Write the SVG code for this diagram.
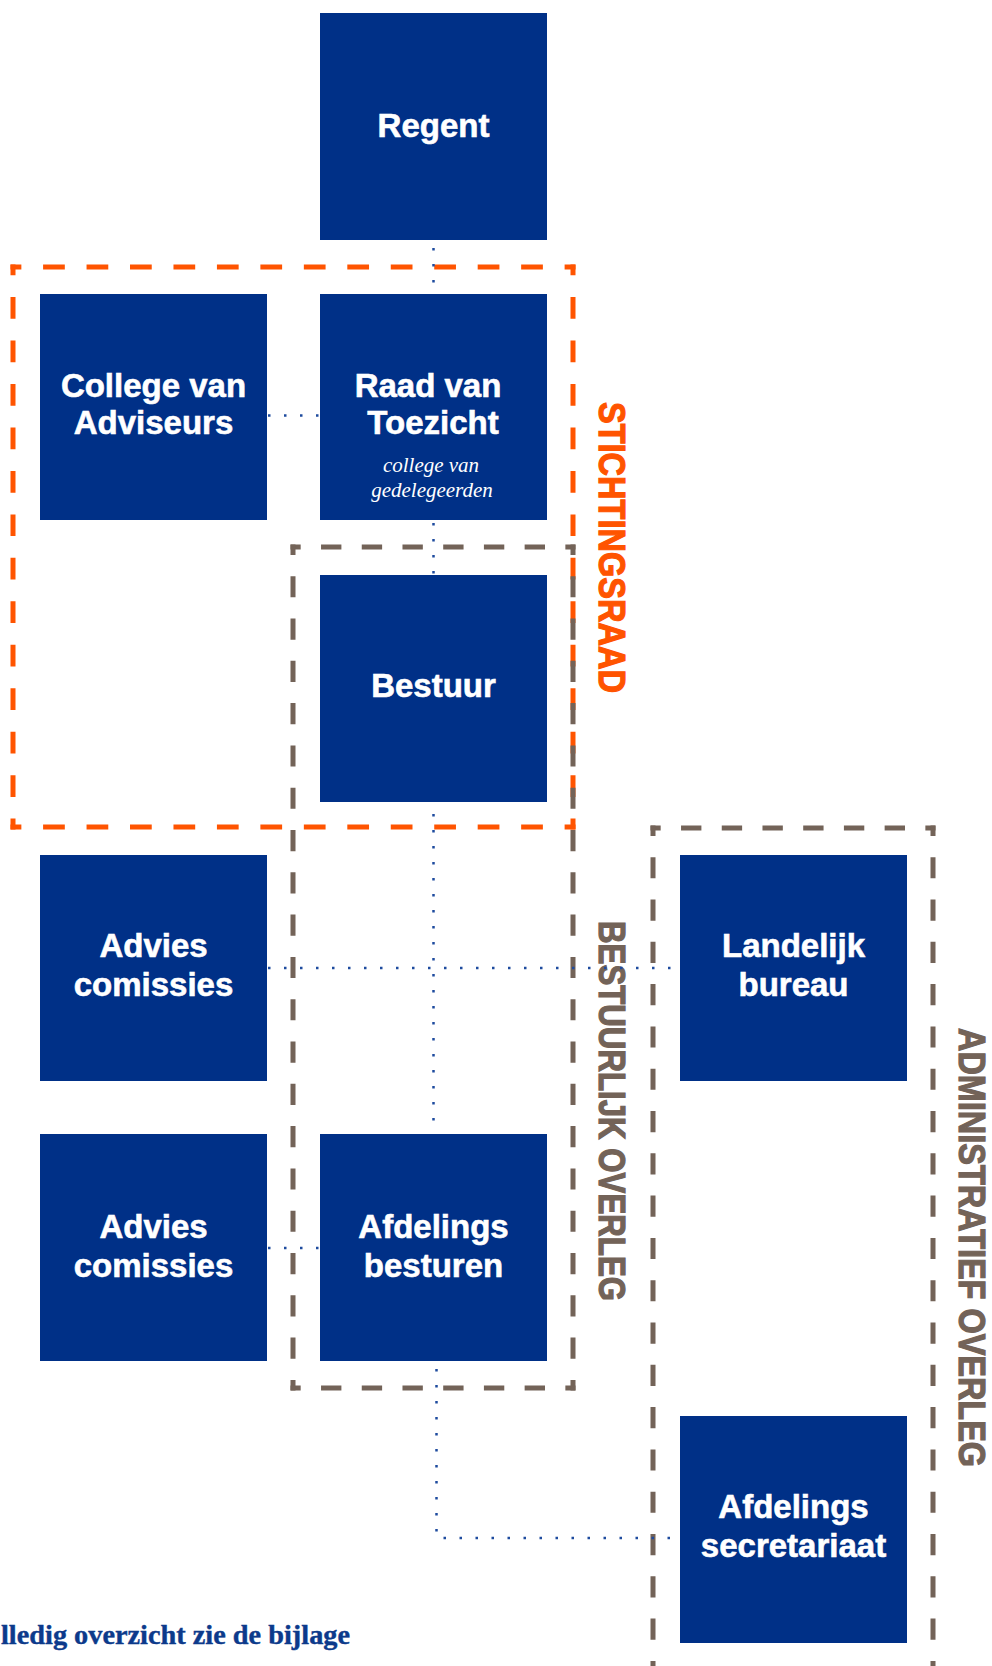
<svg xmlns="http://www.w3.org/2000/svg" width="992" height="1666" viewBox="0 0 992 1666">
<style>
.box{fill:#003087}
.lbl{font-family:"Liberation Sans",Arial,sans-serif;font-weight:bold;font-size:33px;fill:#ffffff;stroke:#ffffff;stroke-width:0.6;text-anchor:middle}
.sub{font-family:"Liberation Serif","Times New Roman",serif;font-style:italic;font-size:21px;fill:#ffffff;text-anchor:middle}
.dot{fill:none;stroke:#1E4B9E;stroke-width:2.5;stroke-dasharray:2.5 13.5}
.or{fill:none;stroke:#FF5400;stroke-width:5}
.gr{fill:none;stroke:#736358;stroke-width:5}
.side{font-family:"Liberation Sans",Arial,sans-serif;font-weight:bold;font-size:36px;stroke-width:1.2}
.note{font-family:"Liberation Serif","Times New Roman",serif;font-weight:bold;font-size:28px;fill:#0C3A8B;stroke:#0C3A8B;stroke-width:0.4}
</style>
<rect width="992" height="1666" fill="#ffffff"/>

<g id="stichtingsraad">
  <line class="or" x1="10.5" y1="267" x2="575.5" y2="267" stroke-dasharray="21.73 21.73" stroke-dashoffset="10.87"/>
  <line class="or" x1="10.5" y1="827" x2="575.5" y2="827" stroke-dasharray="21.73 21.73" stroke-dashoffset="10.87"/>
  <line class="or" x1="13" y1="264.5" x2="13" y2="829.5" stroke-dasharray="21.73 21.73" stroke-dashoffset="10.87"/>
  <line class="or" x1="573" y1="264.5" x2="573" y2="829.5" stroke-dasharray="21.73 21.73" stroke-dashoffset="10.87"/>
  <text class="side" fill="#FF5400" stroke="#FF5400" transform="translate(599,402) rotate(90)" textLength="291" lengthAdjust="spacingAndGlyphs">STICHTINGSRAAD</text>
</g>

<g id="bestuurlijk-overleg">
  <line class="gr" x1="290.5" y1="547" x2="575.5" y2="547" stroke-dasharray="20.36 20.36" stroke-dashoffset="10.18"/>
  <line class="gr" x1="290.5" y1="1388" x2="575.5" y2="1388" stroke-dasharray="20.36 20.36" stroke-dashoffset="10.18"/>
  <line class="gr" x1="293" y1="544.5" x2="293" y2="1390.5" stroke-dasharray="21.15 21.15" stroke-dashoffset="10.58"/>
  <line class="gr" x1="573" y1="544.5" x2="573" y2="1390.5" stroke-dasharray="21.15 21.15" stroke-dashoffset="10.58"/>
  <text class="side" fill="#736358" stroke="#736358" transform="translate(599,921) rotate(90)" textLength="380" lengthAdjust="spacingAndGlyphs">BESTUURLIJK OVERLEG</text>
</g>

<g id="administratief-overleg">
  <line class="gr" x1="650.5" y1="828" x2="935.5" y2="828" stroke-dasharray="20.36 20.36" stroke-dashoffset="10.18"/>
  <line class="gr" x1="653" y1="825.5" x2="653" y2="1671.5" stroke-dasharray="21.15 21.15" stroke-dashoffset="10.58"/>
  <line class="gr" x1="933" y1="825.5" x2="933" y2="1671.5" stroke-dasharray="21.15 21.15" stroke-dashoffset="10.58"/>
  <text class="side" fill="#736358" stroke="#736358" transform="translate(959,1028) rotate(90)" textLength="439" lengthAdjust="spacingAndGlyphs">ADMINISTRATIEF OVERLEG</text>
</g>

<g id="connectors">
  <path class="dot" d="M433.5 248 V294"/>
  <path class="dot" d="M268 415.5 H320"/>
  <path class="dot" d="M433.5 523 V575"/>
  <path class="dot" d="M433.5 814 V1134"/>
  <path class="dot" d="M268 968 H680"/>
  <path class="dot" d="M268 1248 H320"/>
  <path class="dot" d="M436.5 1369 V1538 H680"/>
</g>

<g id="regent">
  <rect class="box" x="320" y="13" width="227" height="227"/>
  <text class="lbl" x="433.5" y="137">Regent</text>
</g>
<g id="college-van-adviseurs">
  <rect class="box" x="40" y="294" width="227" height="226"/>
  <text class="lbl" x="153.5" y="397">College van</text>
  <text class="lbl" x="153.5" y="434">Adviseurs</text>
</g>
<g id="raad-van-toezicht">
  <rect class="box" x="320" y="294" width="227" height="226"/>
  <text class="lbl" x="428" y="397">Raad van</text>
  <text class="lbl" x="433" y="434">Toezicht</text>
  <text class="sub" x="431" y="472">college van</text>
  <text class="sub" x="432" y="497">gedelegeerden</text>
</g>
<g id="bestuur">
  <rect class="box" x="320" y="575" width="227" height="227"/>
  <text class="lbl" x="433.5" y="697">Bestuur</text>
</g>
<g id="advies-comissies-1">
  <rect class="box" x="40" y="855" width="227" height="226"/>
  <text class="lbl" x="153.5" y="957">Advies</text>
  <text class="lbl" x="153.5" y="996">comissies</text>
</g>
<g id="landelijk-bureau">
  <rect class="box" x="680" y="855" width="227" height="226"/>
  <text class="lbl" x="793.5" y="957">Landelijk</text>
  <text class="lbl" x="793.5" y="996">bureau</text>
</g>
<g id="advies-comissies-2">
  <rect class="box" x="40" y="1134" width="227" height="227"/>
  <text class="lbl" x="153.5" y="1238">Advies</text>
  <text class="lbl" x="153.5" y="1277">comissies</text>
</g>
<g id="afdelings-besturen">
  <rect class="box" x="320" y="1134" width="227" height="227"/>
  <text class="lbl" x="433.5" y="1238">Afdelings</text>
  <text class="lbl" x="433.5" y="1277">besturen</text>
</g>
<g id="afdelings-secretariaat">
  <rect class="box" x="680" y="1416" width="227" height="227"/>
  <text class="lbl" x="793.5" y="1518">Afdelings</text>
  <text class="lbl" x="793.5" y="1557">secretariaat</text>
</g>

<text class="note" x="1" y="1644" textLength="349" lengthAdjust="spacingAndGlyphs">lledig overzicht zie de bijlage</text>
</svg>
